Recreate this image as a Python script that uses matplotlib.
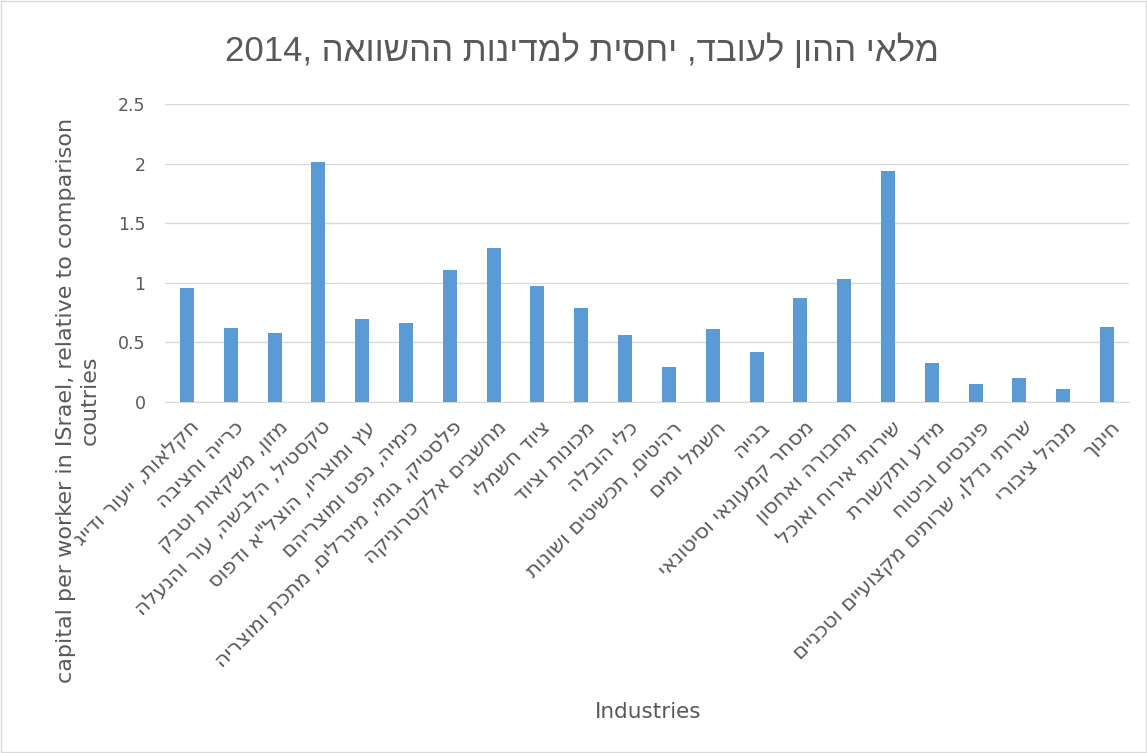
import re
import matplotlib
matplotlib.use("Agg")
import matplotlib.pyplot as plt
import matplotlib.transforms as mtransforms
import numpy as np


def visual(s):
    # matplotlib has no bidi: flip the Hebrew, keep digit runs readable
    r = s[::-1]
    return re.sub(r"\d+", lambda m: m.group(0)[::-1], r)


title_year = "2014"
title = "מלאי ההון לעובד, יחסית למדינות ההשוואה"
ylabel = "capital per worker in ISrael, relative to comparison\ncoutries"
xlabel = "Industries"

industries = [
    "חקלאות, ייעור ודייג",
    "כרייה וחציבה",
    "מזון, משקאות וטבק",
    "טקסטיל, הלבשה, עור והנעלה",
    'עץ ומוצריו, הוצל"א ודפוס',
    "כימיה, נפט ומוצריהם",
    "פלסטיק, גומי, מינרלים, מתכת ומוצריה",
    "מחשבים אלקטרוניקה",
    "ציוד חשמלי",
    "מכונות וציוד",
    "כלי הובלה",
    "רהיטים, תכשיטים ושונות",
    "חשמל ומים",
    "בנייה",
    "מסחר קמעונאי וסיטונאי",
    "תחבורה ואחסון",
    "שירותי אירוח ואוכל",
    "מידע ותקשורת",
    "פיננסים וביטוח",
    "שרותי נדלן, שרותים מקצועיים וטכניים",
    "מנהל ציבורי",
    "חינוך",
]
values = [0.96, 0.62, 0.58, 2.01, 0.70, 0.66, 1.11, 1.29, 0.97, 0.79, 0.56,
          0.29, 0.61, 0.42, 0.87, 1.03, 1.94, 0.33, 0.15, 0.20, 0.11, 0.63]
yticks = [0, 0.5, 1, 1.5, 2, 2.5]

grey = "#595959"

fig = plt.figure(figsize=(11.47, 7.53), dpi=100)
ax = fig.add_axes([165 / 1147, 1 - 402 / 753, (1129 - 165) / 1147, (402 - 104) / 753])

x = np.arange(len(industries))
ax.bar(x, values, width=0.32, color="#5B9BD5", zorder=3)

ax.set_xlim(-0.5, len(industries) - 0.5)
ax.set_ylim(0, 2.5)
ax.set_yticks(yticks)
ax.set_yticklabels([f"{v:g}" for v in yticks], fontsize=12.5, color=grey,
                   family="DejaVu Sans")
ax.yaxis.grid(True, color="#d9d9d9", linewidth=1, zorder=0)
ax.tick_params(axis="y", length=0, pad=14)
ax.tick_params(axis="x", length=0, pad=11)

ax.set_xticks(x)
ax.set_xticklabels([visual(s) for s in industries], rotation=45, ha="right",
                   rotation_mode="anchor", fontsize=15, color=grey,
                   family="DejaVu Sans")
shift = mtransforms.ScaledTranslation(3 / 100, 0, fig.dpi_scale_trans)
for lab in ax.get_xticklabels():
    lab.set_transform(lab.get_transform() + shift)

for side in ["left", "right", "top"]:
    ax.spines[side].set_visible(False)
ax.spines["bottom"].set_color("#d9d9d9")

fig.text(582 / 1147, 1 - 50 / 753, title_year + ", " + visual(title),
         ha="center", va="center", fontsize=25, color=grey,
         family="Liberation Sans")
fig.text(78 / 1147, 1 - 400 / 753, ylabel, rotation=90, ha="center",
         va="center", fontsize=16, color=grey, family="DejaVu Sans",
         multialignment="center")
fig.text(648 / 1147, 1 - 712 / 753, xlabel, ha="center", va="center",
         fontsize=15.5, color=grey, family="DejaVu Sans")

fig.patches.append(plt.Rectangle((0.001, 0.001), 0.998, 0.998,
                                 transform=fig.transFigure, fill=False,
                                 edgecolor="#d9d9d9", linewidth=1))

fig.savefig("out.png", dpi=100)
